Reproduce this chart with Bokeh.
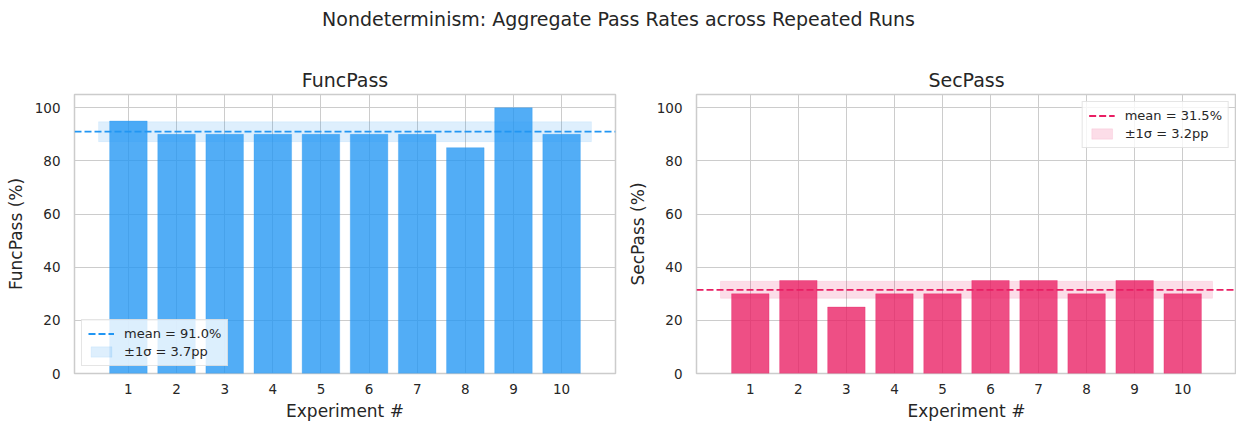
from bokeh.plotting import figure
from bokeh.layouts import column, row
from bokeh.models import Range1d, FixedTicker, Legend, LegendItem
from bokeh.core.properties import value
from bokeh.embed import file_html
from bokeh.resources import INLINE
import numpy as np

experiments = [1, 2, 3, 4, 5, 6, 7, 8, 9, 10]
func_pass = [95, 90, 90, 90, 90, 90, 90, 85, 100, 90]
sec_pass = [30, 35, 25, 30, 30, 35, 35, 30, 35, 30]
y_ticks = [0, 20, 40, 60, 80, 100]

FONT = "DejaVu Sans"
TEXT = "#262626"
GRID = "#cccccc"

X_LO, X_HI = -0.12, 11.12
BAND_PAD = 0.62


def make_panel(name, vals, color, legend_loc, frame_w, border_right):
    p = figure(frame_width=frame_w, frame_height=279, output_backend="svg",
               toolbar_location=None,
               x_range=Range1d(X_LO, X_HI), y_range=Range1d(0, 105),
               min_border_left=74, min_border_right=border_right,
               min_border_top=64, min_border_bottom=50, title=name)
    p.title.text_font = FONT
    p.title.text_font_size = "19px"
    p.title.text_font_style = "normal"
    p.title.text_color = TEXT
    p.title.align = "center"
    p.title.offset = 0
    p.title.standoff = 8

    arr = np.array(vals, dtype=float)
    mean = arr.mean()
    std = arr.std()

    band = p.quad(left=[experiments[0] - BAND_PAD], right=[experiments[-1] + BAND_PAD],
                  bottom=[mean - std], top=[mean + std],
                  fill_color=color, fill_alpha=0.15, line_color=color, line_alpha=0.08)
    p.vbar(x=experiments, top=vals, width=0.78, bottom=0,
           fill_color=color, fill_alpha=0.78, line_color=color, line_alpha=0.3)
    ml = p.line(x=[X_LO, X_HI], y=[mean, mean], line_color=color, line_width=1.8,
                line_dash="7 3")

    legend = Legend(items=[
        LegendItem(label=f"mean = {mean:.1f}%", renderers=[ml]),
        LegendItem(label=f"\u00b11\u03c3 = {std:.1f}pp", renderers=[band]),
    ], location=legend_loc)
    legend.label_text_font = FONT
    legend.label_text_font_size = "13px"
    legend.label_text_color = TEXT
    legend.glyph_width = 26
    legend.glyph_height = 13
    legend.label_height = 13
    legend.spacing = 3
    legend.padding = 6
    legend.margin = 7
    legend.label_standoff = 10
    legend.border_line_color = GRID
    legend.border_line_width = 1
    legend.background_fill_alpha = 0.8
    p.add_layout(legend)

    p.xaxis.ticker = FixedTicker(ticks=experiments)
    p.yaxis.ticker = FixedTicker(ticks=y_ticks)
    p.xaxis.axis_label = "Experiment #"
    p.yaxis.axis_label = f"{name} (%)"
    for ax in (p.xaxis, p.yaxis):
        ax.axis_line_color = None
        ax.major_tick_line_color = None
        ax.minor_tick_line_color = None
        ax.major_tick_out = 0
        ax.major_tick_in = 0
        ax.minor_tick_out = 0
        ax.minor_tick_in = 0
        ax.major_label_text_font = FONT
        ax.major_label_text_font_size = "13.5px"
        ax.major_label_text_color = TEXT
        ax.axis_label_text_font = FONT
        ax.axis_label_text_font_size = "17px"
        ax.axis_label_text_font_style = "normal"
        ax.axis_label_text_color = TEXT
    p.xaxis.major_label_standoff = 10
    p.yaxis.major_label_standoff = 14
    p.xaxis.axis_label_standoff = 4
    p.yaxis.axis_label_standoff = 6
    p.xgrid.grid_line_color = GRID
    p.ygrid.grid_line_color = GRID
    p.xgrid.grid_line_width = 1
    p.ygrid.grid_line_width = 1
    p.outline_line_color = GRID
    p.outline_line_width = 1.5
    p.outline_line_alpha = 1
    return p


p1 = make_panel("FuncPass", func_pass, "#2196F3", "bottom_left", 541, 7)
p2 = make_panel("SecPass", sec_pass, "#E91E63", "top_right", 540, 0)

p0 = figure(width=1236, height=30, output_backend="svg", toolbar_location=None,
            x_range=Range1d(0, 1), y_range=Range1d(0, 30), min_border=0)
p0.axis.visible = False
p0.grid.visible = False
p0.outline_line_color = None
p0.text(x=[0.5], y=[12], text=["Nondeterminism: Aggregate Pass Rates across Repeated Runs"],
        text_align="center", text_baseline="middle", text_font=value(FONT),
        text_font_size="19px", text_color=TEXT)

layout = column(p0, row(p1, p2, spacing=0), spacing=0)
open("out.html", "w").write(file_html(layout, INLINE))
